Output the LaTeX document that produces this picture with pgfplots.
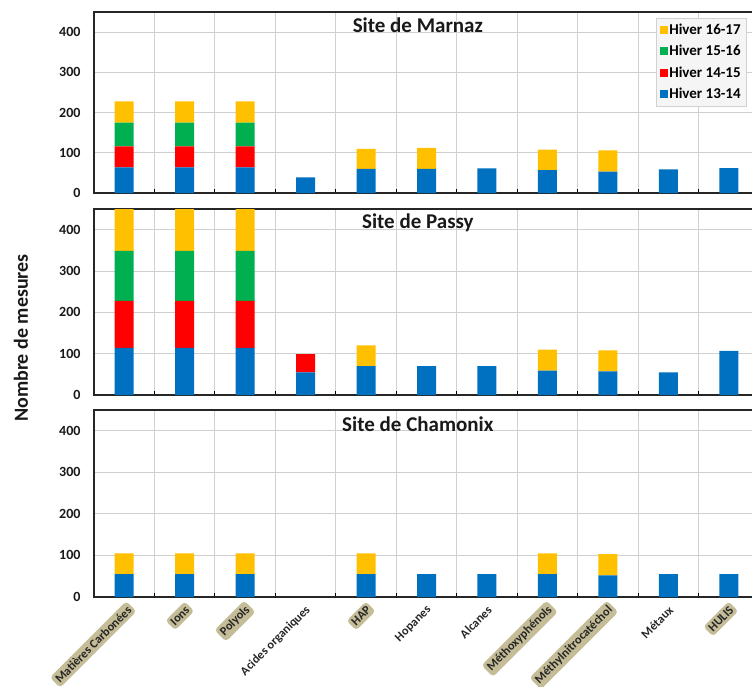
\documentclass[border=0pt]{standalone}
\usepackage{fontspec}
\setmainfont{Carlito}
\usepackage{pgfplots}
\usepackage{pgfplotstable}
\pgfplotsset{compat=1.18}
\definecolor{cblue}{HTML}{0070C0}
\definecolor{cred}{HTML}{FF0000}
\definecolor{cgreen}{HTML}{00B050}
\definecolor{cyel}{HTML}{FFC000}
\definecolor{ctan}{HTML}{C4BD97}
\definecolor{cgrid}{HTML}{D0D0D0}

\pgfplotstableread{
x b r g y
0 64 52 59 53
1 64 52 59 53
2 64 52 59 53
3 39 0 0 0
4 60 0 0 50
5 60 0 0 52
6 61 0 0 0
7 57 0 0 51
8 53 0 0 53
9 59 0 0 0
10 62 0 0 0
}\marnaz
\pgfplotstableread{
x b r g y
0 114 114 121 120
1 114 114 121 120
2 114 114 121 120
3 55 44 0 0
4 70 0 0 50
5 70 0 0 0
6 70 0 0 0
7 59 0 0 51
8 57 0 0 51
9 55 0 0 0
10 107 0 0 0
}\passy
\pgfplotstableread{
x b y
0 55 50
1 55 50
2 55 50
3 0 0
4 55 50
5 55 0
6 55 0
7 55 50
8 52 51
9 55 0
10 55 0
}\chamonix

\pgfplotsset{
  site/.style={
    scale only axis, width=665pt,
    xmin=-0.5, xmax=10.5, ymin=0, ymax=450,
    ybar stacked, bar width=19pt,
    xtick={0,...,10}, xticklabels={},
    minor xtick={0.5,1.5,...,9.5},
    xminorgrids=true, ymajorgrids=true,
    ytick={0,100,200,300,400},
    tick pos=left,
    major tick length=0pt,
    minor tick length=4pt,
    minor x tick style={black, line width=1pt},
    grid style={cgrid, line width=0.9pt},
    minor grid style={cgrid, line width=0.9pt},
    axis line style={black!85, line width=1.2pt},
    yticklabel style={font=\fontsize{14}{14}\selectfont\bfseries, /pgf/number format/assume math mode=true, xshift=-10pt, text=black!90},
    every axis plot/.append style={draw=none},
  },
}
\tikzset{
  lab/.style={rotate=45, anchor=east, font=\fontsize{12.3}{12.3}\selectfont\bfseries, inner sep=2.8pt, rounded corners=3.5pt, text=black!85},
  tanl/.style={lab, fill=ctan},
  ttl/.style={font=\fontsize{21}{21}\selectfont\bfseries, text=black!90},
}

\begin{document}
\begin{tikzpicture}[x=1pt,y=1pt]
\path[use as bounding box] (0,0) rectangle (752,-686);

\begin{axis}[site, at={(94pt,-193pt)}, anchor=south west, height=181pt,
  reverse legend,
  legend image code/.code={\fill[#1] (0pt,-4pt) rectangle (8pt,4pt);},
  legend style={at={(0.981,0.967)}, anchor=north east, draw=black!18, fill=black!4,
    font=\fontsize{15}{15}\selectfont\bfseries, row sep=6.5pt, inner sep=4pt,
    nodes={inner sep=1.5pt}},
  legend cell align=left]
\addplot[fill=cblue] table[x=x,y=b] \marnaz;
\addplot[fill=cred] table[x=x,y=r] \marnaz;
\addplot[fill=cgreen] table[x=x,y=g] \marnaz;
\addplot[fill=cyel] table[x=x,y=y] \marnaz;
\legend{Hiver 13-14,Hiver 14-15,Hiver 15-16,Hiver 16-17}
\node[ttl] at (rel axis cs:0.487,0.925) {Site de Marnaz};
\end{axis}

\begin{axis}[site, at={(94pt,-395pt)}, anchor=south west, height=186pt]
\addplot[fill=cblue] table[x=x,y=b] \passy;
\addplot[fill=cred] table[x=x,y=r] \passy;
\addplot[fill=cgreen] table[x=x,y=g] \passy;
\addplot[fill=cyel] table[x=x,y=y] \passy;
\node[ttl] at (rel axis cs:0.487,0.925) {Site de Passy};
\end{axis}

\begin{axis}[site, at={(94pt,-597pt)}, anchor=south west, height=187pt, clip=false]
\addplot[fill=cblue] table[x=x,y=b] \chamonix;
\addplot[fill=cyel] table[x=x,y=y] \chamonix;
\node[ttl] at (rel axis cs:0.487,0.925) {Site de Chamonix};
\node[tanl] at (axis cs:0.12,-22) {Matières Carbonées};
\node[tanl] at (axis cs:1.08,-22) {Ions};
\node[tanl] at (axis cs:2.08,-22) {Polyols};
\node[lab] at (axis cs:3.08,-22) {Acides organiques};
\node[tanl] at (axis cs:4.08,-22) {HAP};
\node[lab] at (axis cs:5.08,-22) {Hopanes};
\node[lab] at (axis cs:6.08,-22) {Alcanes};
\node[tanl] at (axis cs:7.08,-22) {Méthoxyphénols};
\node[tanl] at (axis cs:8.08,-22) {Méthylnitrocatéchol};
\node[lab] at (axis cs:9.08,-22) {Métaux};
\node[tanl] at (axis cs:10.08,-22) {HULIS};
\end{axis}

\node[rotate=90, font=\fontsize{20}{20}\selectfont\bfseries, text=black!90] at (21,-338) {Nombre de mesures};
\end{tikzpicture}
\end{document}
